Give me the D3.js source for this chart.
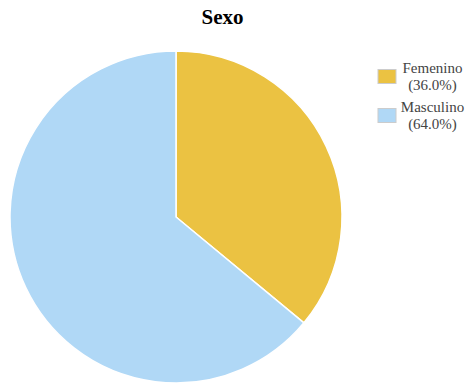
<!DOCTYPE html>
<html>
<head>
<meta charset="utf-8">
<script src="https://cdn.jsdelivr.net/npm/d3@7"></script>
<style>
  html, body { margin: 0; padding: 0; background: #fff; }
  svg { display: block; }
</style>
</head>
<body>
<svg id="chart" width="466" height="383"></svg>
<script>
const categories = ["Femenino", "Masculino"];
const values = [36.0, 64.0];
const colors = ["#EBC242", "#B0D8F6"];
const title = "Sexo";

const serif = "'Liberation Serif', 'Times New Roman', serif";
const svg = d3.select("#chart");
const cx = 176, cy = 217, radius = 166;

svg.append("text")
  .attr("x", 222.5).attr("y", 24)
  .attr("text-anchor", "middle")
  .style("font-family", serif)
  .style("font-weight", "bold")
  .style("font-size", "21px")
  .attr("fill", "#000")
  .text(title);

const pie = d3.pie().sort(null).value(d => d)(values);
const arc = d3.arc().innerRadius(0).outerRadius(radius);

svg.append("g")
  .attr("transform", `translate(${cx},${cy})`)
  .selectAll("path")
  .data(pie)
  .join("path")
  .attr("d", arc)
  .attr("fill", (d, i) => colors[i])
  .attr("stroke", "#fff")
  .attr("stroke-width", 1.5);

const legend = svg.append("g");
const items = legend.selectAll("g")
  .data(categories)
  .join("g")
  .attr("transform", (d, i) => `translate(377.5,${69 + i * 39})`);

items.append("rect")
  .attr("x", 0.5).attr("y", 0.5)
  .attr("width", 18).attr("height", 14)
  .attr("fill", (d, i) => colors[i])
  .attr("stroke", "#ccc")
  .attr("stroke-width", 1);

items.append("text")
  .attr("x", 55).attr("y", 4)
  .attr("text-anchor", "middle")
  .style("font-family", serif)
  .style("font-size", "15px")
  .attr("fill", "#444")
  .text(d => d);

items.append("text")
  .attr("x", 55).attr("y", 21)
  .attr("text-anchor", "middle")
  .style("font-family", serif)
  .style("font-size", "15px")
  .attr("fill", "#444")
  .text((d, i) => `(${values[i].toFixed(1)}%)`);
</script>
</body>
</html>
